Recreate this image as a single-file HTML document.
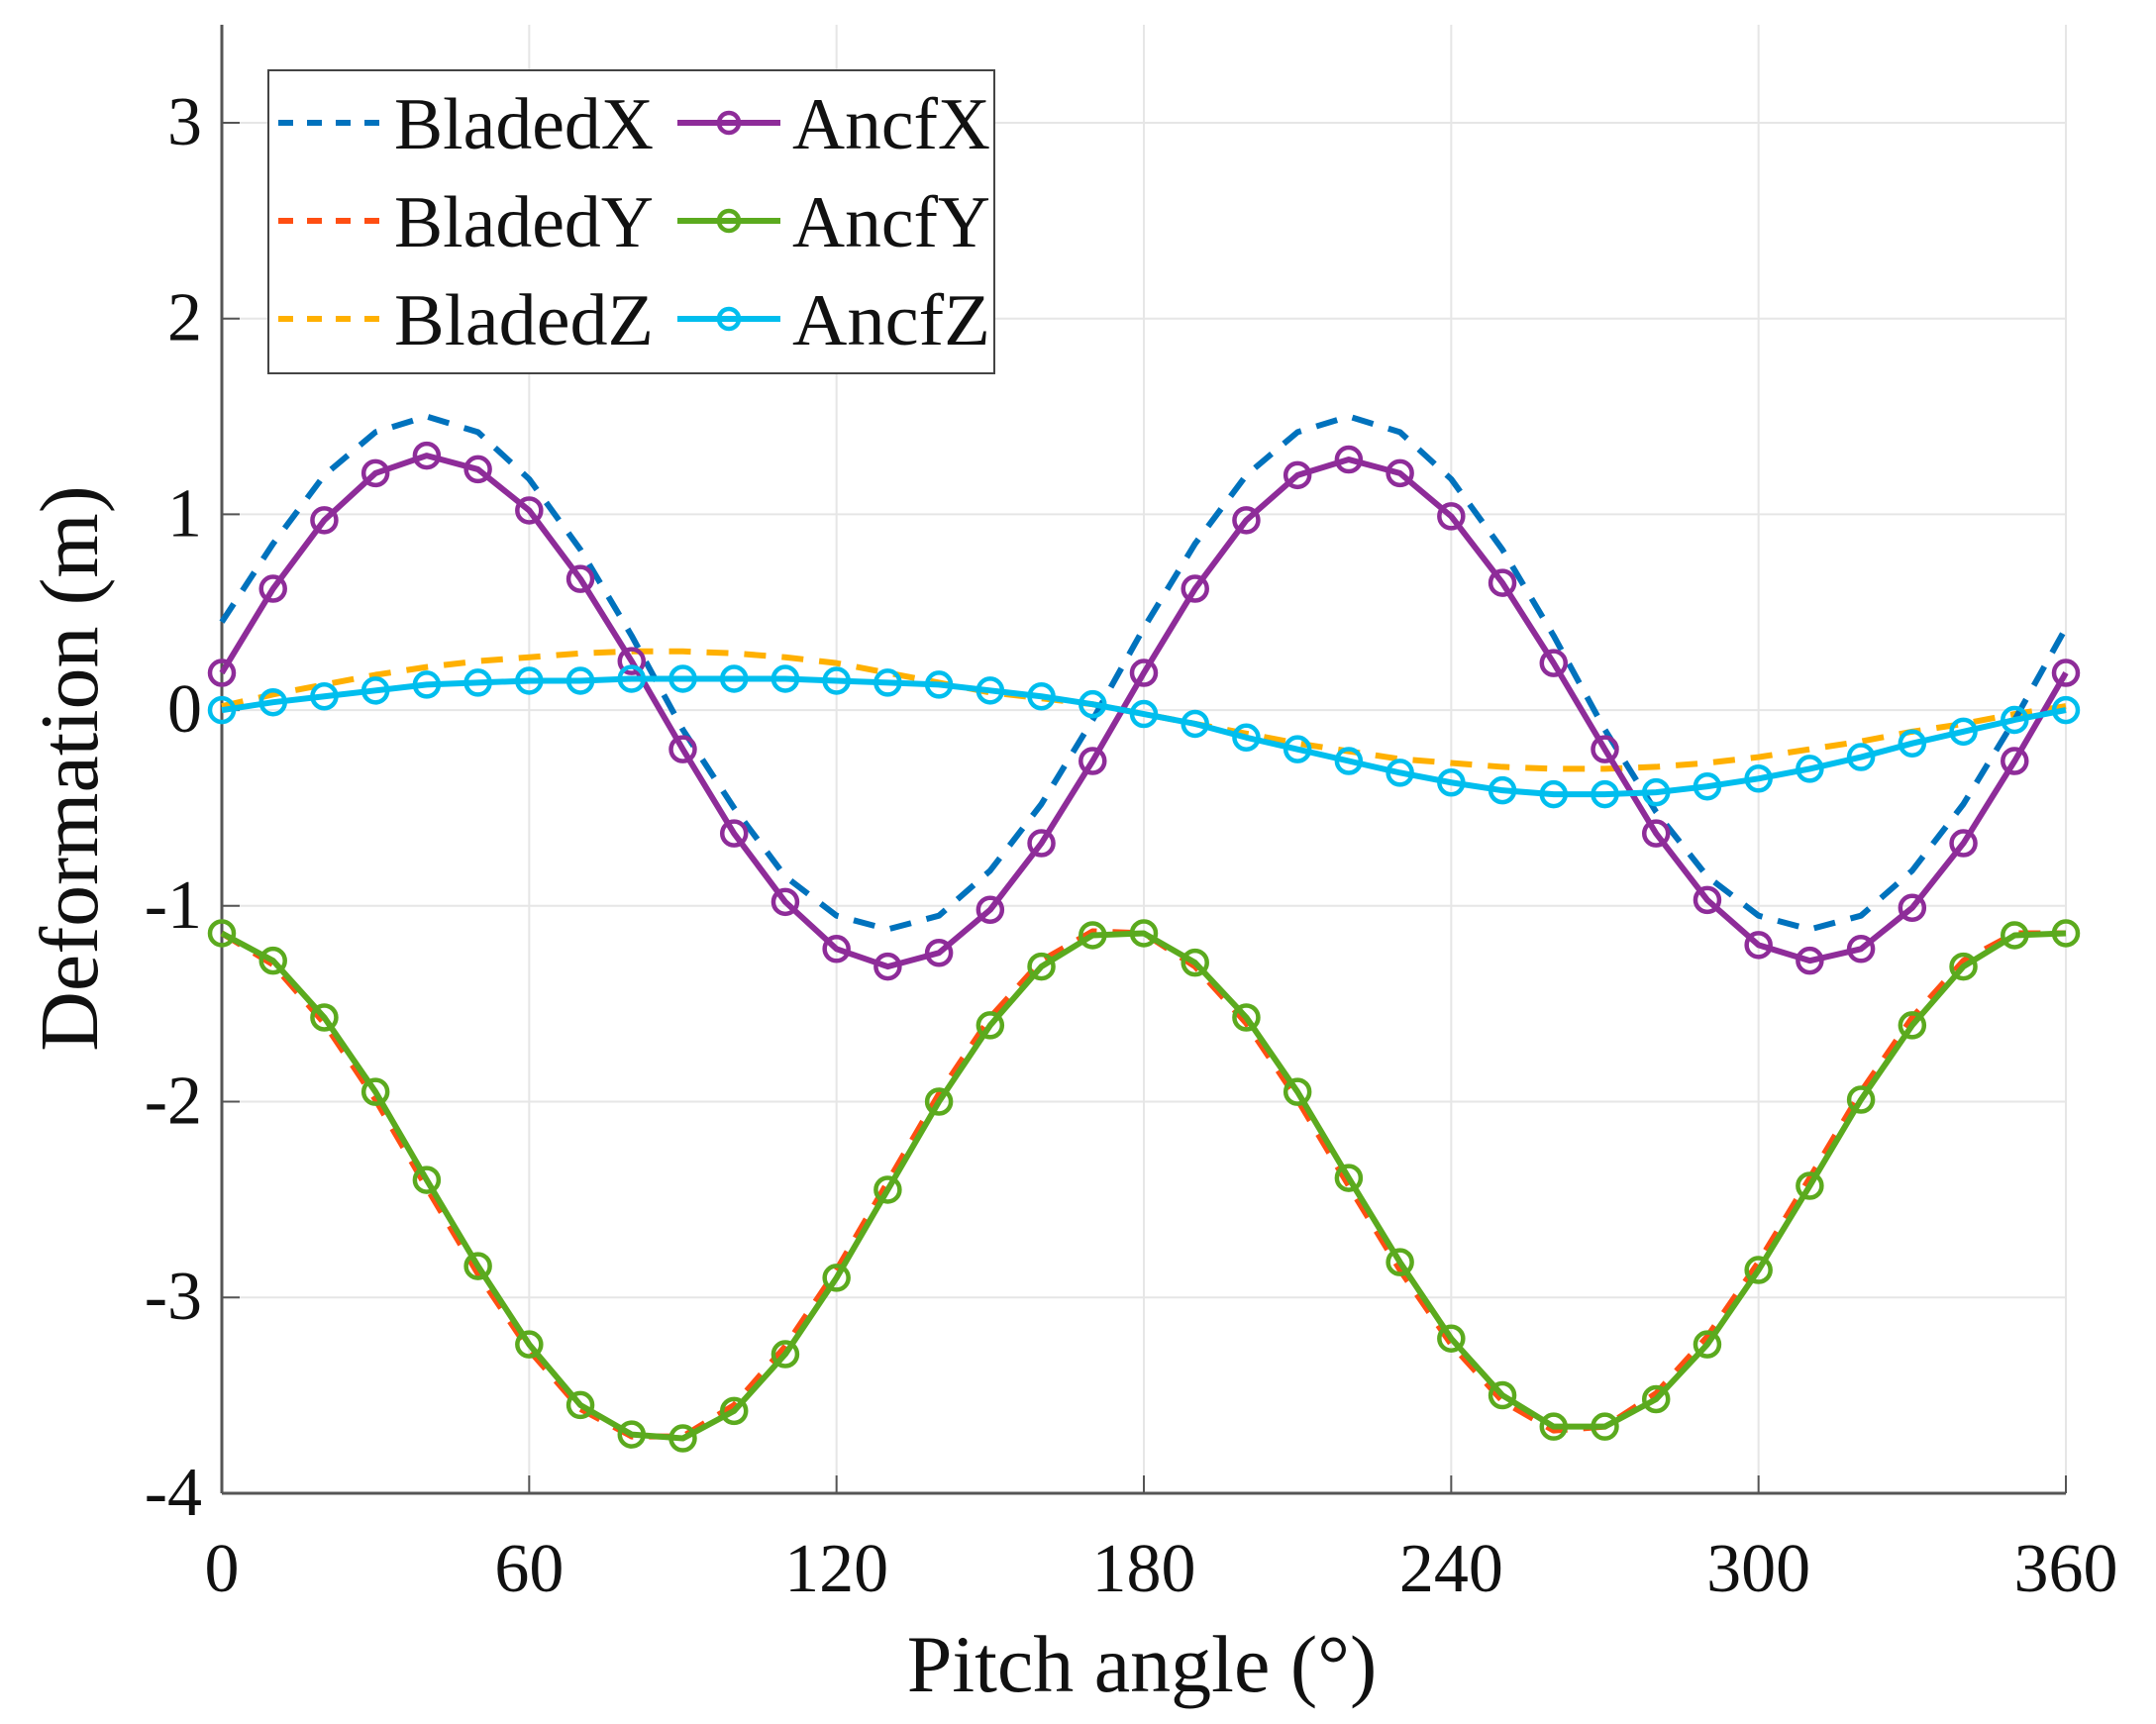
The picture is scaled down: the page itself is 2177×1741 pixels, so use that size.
<!DOCTYPE html>
<html><head><meta charset="utf-8"><style>
html,body{margin:0;padding:0;background:#fff;}
svg{display:block;font-family:"Liberation Serif",serif;}
</style></head><body>
<svg id="chart" width="2177" height="1741" viewBox="0 0 2177 1741" xmlns="http://www.w3.org/2000/svg">
<g id="grid"></g>
<g id="axes"></g>
<g id="series"></g>
<g id="legend"></g>
</svg>
<script>
const angles = [0,10,20,30,40,50,60,70,80,90,100,110,120,130,140,150,160,170,180,190,200,210,220,230,240,250,260,270,280,290,300,310,320,330,340,350,360];
const bladedX = [0.45,0.85,1.2,1.42,1.5,1.42,1.18,0.82,0.38,-0.1,-0.5,-0.85,-1.05,-1.12,-1.05,-0.82,-0.48,-0.05,0.42,0.85,1.2,1.42,1.5,1.42,1.18,0.82,0.38,-0.1,-0.52,-0.85,-1.05,-1.12,-1.05,-0.82,-0.48,-0.05,0.42];
const bladedY = [-1.14,-1.3,-1.6,-1.99,-2.44,-2.88,-3.27,-3.57,-3.71,-3.71,-3.55,-3.25,-2.86,-2.41,-1.96,-1.57,-1.28,-1.13,-1.14,-1.31,-1.6,-1.99,-2.43,-2.86,-3.24,-3.53,-3.68,-3.66,-3.49,-3.2,-2.82,-2.39,-1.95,-1.57,-1.28,-1.14,-1.14];
const bladedZ = [0.02,0.08,0.13,0.18,0.22,0.25,0.27,0.29,0.3,0.3,0.29,0.27,0.24,0.19,0.14,0.09,0.06,0.03,-0.02,-0.07,-0.12,-0.17,-0.21,-0.25,-0.27,-0.29,-0.3,-0.3,-0.29,-0.27,-0.24,-0.2,-0.16,-0.11,-0.07,-0.02,0.02];
const ancfX = [0.19,0.62,0.97,1.21,1.3,1.23,1.02,0.67,0.25,-0.2,-0.63,-0.98,-1.22,-1.31,-1.24,-1.02,-0.68,-0.26,0.19,0.62,0.97,1.2,1.28,1.21,0.99,0.65,0.24,-0.2,-0.63,-0.97,-1.2,-1.28,-1.22,-1.01,-0.68,-0.26,0.19];
const ancfY = [-1.14,-1.28,-1.57,-1.95,-2.4,-2.84,-3.24,-3.55,-3.7,-3.72,-3.58,-3.29,-2.9,-2.45,-2.0,-1.61,-1.31,-1.15,-1.14,-1.29,-1.57,-1.95,-2.39,-2.82,-3.21,-3.5,-3.66,-3.66,-3.52,-3.24,-2.86,-2.43,-1.99,-1.61,-1.31,-1.15,-1.14];
const ancfZ = [0,0.04,0.07,0.1,0.13,0.14,0.15,0.15,0.16,0.16,0.16,0.16,0.15,0.14,0.13,0.1,0.07,0.03,-0.02,-0.07,-0.14,-0.2,-0.26,-0.32,-0.37,-0.41,-0.43,-0.43,-0.42,-0.39,-0.35,-0.3,-0.24,-0.17,-0.11,-0.05,0];
const xTicks = [0,60,120,180,240,300,360];
const yTicks = [-4,-3,-2,-1,0,1,2,3];
const yTickLabels = ["-4","-3","-2","-1","0","1","2","3"];

const NS="http://www.w3.org/2000/svg";
const X0=224,X1=2086,YT=25,YB=1508;
const xS=v=>X0+(v-0)/(360-0)*(X1-X0);
const yS=v=>124+(3-v)*197.7;
function mk(tag,attrs,parent){const e=document.createElementNS(NS,tag);for(const k in attrs)e.setAttribute(k,attrs[k]);parent.appendChild(e);return e;}
const grid=document.getElementById('grid'),axes=document.getElementById('axes'),ser=document.getElementById('series'),leg=document.getElementById('legend');

xTicks.forEach(t=>{
  const l=mk('line',{x1:xS(t),x2:xS(t),y1:YT,y2:YB,stroke:'#e6e6e6','stroke-width':2},grid);
  
  
  const tk=mk('line',{x1:xS(t),x2:xS(t),y1:YB,y2:YB-18,stroke:'#555','stroke-width':2},axes);
  
  
  const tx=mk('text',{x:xS(t),y:1607,'font-size':70,'text-anchor':'middle',fill:'#111'},axes);
  tx.textContent=t;
  
  
});
yTicks.forEach((t,i)=>{
  const l=mk('line',{x1:X0,x2:X1,y1:yS(t),y2:yS(t),stroke:'#e6e6e6','stroke-width':2},grid);
  
  
  const tk=mk('line',{x1:X0,x2:X0+18,y1:yS(t),y2:yS(t),stroke:'#555','stroke-width':2},axes);
  
  
  const tx=mk('text',{x:204,y:yS(t)+22,'font-size':70,'text-anchor':'end',fill:'#111'},axes);
  tx.textContent=yTickLabels[i];
  
  
});
const ax1=mk('line',{x1:X0,x2:X0,y1:YT,y2:YB,stroke:'#555','stroke-width':3},axes);


const ax2=mk('line',{x1:X0,x2:X1,y1:YB,y2:YB,stroke:'#555','stroke-width':3},axes);


const xl=mk('text',{x:1153,y:1708,'font-size':82,'text-anchor':'middle',fill:'#111'},axes);
xl.textContent='Pitch angle (°)';


const yl=mk('text',{x:0,y:0,'font-size':84,'text-anchor':'middle',fill:'#111',transform:'translate(98,776) rotate(-90)'},axes);
yl.textContent='Deformation (m)';



function drawSeries(vals,color,dashed,name){
  const g=mk('g',{},ser);
  
  
  const pts=vals.map((v,i)=>xS(angles[i])+','+yS(v)).join(' ');
  const p=mk('polyline',{points:pts,fill:'none',stroke:color,'stroke-width':6,'stroke-linejoin':'round'},g);
  if(dashed)p.setAttribute('stroke-dasharray','22 16');
  
  
  if(!dashed){
    vals.forEach((v,i)=>{
      const c=mk('circle',{cx:xS(angles[i]),cy:yS(v),r:12,fill:'none',stroke:color,'stroke-width':4.5},g);
      
      
    });
  }
}
const C={bx:'#0072BD',by:'#FF4E12',bz:'#FFB000',ax:'#8E2C99',ay:'#5BAA1E',az:'#00BEEE'};
drawSeries(bladedZ,C.bz,true,'bladed-z');
drawSeries(bladedY,C.by,true,'bladed-y');
drawSeries(bladedX,C.bx,true,'bladed-x');
drawSeries(ancfX,C.ax,false,'ancf-x');
drawSeries(ancfY,C.ay,false,'ancf-y');
drawSeries(ancfZ,C.az,false,'ancf-z');

const box=mk('rect',{x:271,y:71,width:733,height:306,fill:'#fff',stroke:'#444','stroke-width':2},leg);


const entries=[['BladedX',C.bx,true,0,0,262],['BladedY',C.by,true,0,1,262],['BladedZ',C.bz,true,0,2,262],['AncfX',C.ax,false,1,0,200],['AncfY',C.ay,false,1,1,200],['AncfZ',C.az,false,1,2,200]];
entries.forEach(e=>{
  const g=mk('g',{},leg);
  
  
  const y=124+e[4]*99;
  const lx=e[3]?684:281, tx=e[3]?800:398;
  const ln=mk('line',{x1:lx,x2:lx+104,y1:y,y2:y,stroke:e[1],'stroke-width':6},g);
  if(ln&&e[2])ln.setAttribute('stroke-dasharray','15 14');
  if(!e[2])mk('circle',{cx:lx+52,cy:y,r:10,fill:'none',stroke:e[1],'stroke-width':4.5},g);
  const t=mk('text',{x:tx,y:y+26,'font-size':74,fill:'#111',textLength:e[5],lengthAdjust:'spacingAndGlyphs'},g);
  t.textContent=e[0];
});
</script>
</body></html>
